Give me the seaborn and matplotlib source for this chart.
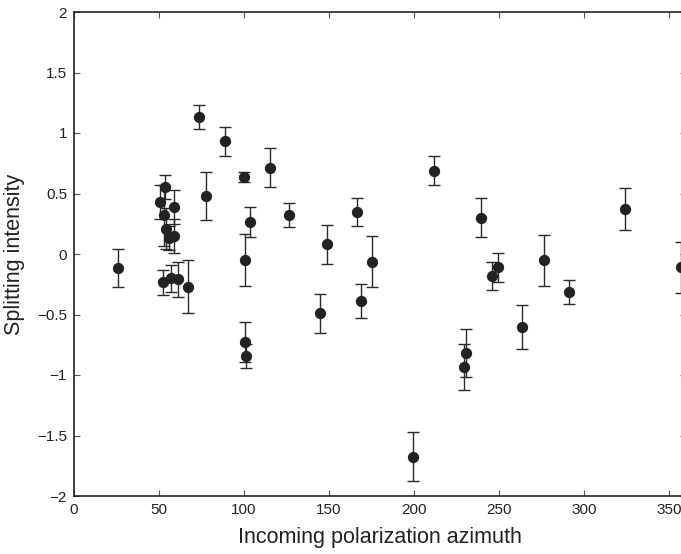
import matplotlib
matplotlib.use("Agg")
import matplotlib.pyplot as plt
import seaborn as sns
import pandas as pd

azimuth = [25.9, 50.6, 53.7, 53.1, 54.1, 56.0, 58.6, 58.8,
           52.5, 57.0, 61.0, 67.0, 73.5, 77.5, 88.8, 99.8, 100.6, 100.8, 101.3,
           103.3, 115.1, 126.7, 144.7, 148.6, 166.7, 168.8, 175.3,
           199.6, 211.8, 229.2, 230.8, 239.6, 245.9, 249.6, 263.5, 276.5,
           291.2, 324.0, 357.0]
splitting = [-0.115, 0.43, 0.555, 0.32, 0.21, 0.13, 0.385, 0.15,
             -0.235, -0.20, -0.21, -0.27, 1.135, 0.477, 0.93, 0.636, -0.047, -0.73, -0.843,
             0.262, 0.713, 0.322, -0.49, 0.08, 0.35, -0.39, -0.063,
             -1.675, 0.69, -0.937, -0.816, 0.30, -0.179, -0.11, -0.603, -0.052,
             -0.317, 0.37, -0.11]
error = [0.155, 0.14, 0.10, 0.25, 0.17, 0.10, 0.14, 0.14,
         0.10, 0.11, 0.145, 0.22, 0.10, 0.20, 0.12, 0.045, 0.215, 0.165, 0.10,
         0.125, 0.16, 0.10, 0.16, 0.163, 0.116, 0.14, 0.212,
         0.204, 0.12, 0.19, 0.20, 0.16, 0.117, 0.122, 0.178, 0.212,
         0.10, 0.175, 0.21]

xticks = [0, 50, 100, 150, 200, 250, 300, 350]
yticks = [-2, -1.5, -1, -0.5, 0, 0.5, 1, 1.5, 2]
ytick_labels = ["\u22122", "\u22121.5", "\u22121", "\u22120.5", "0", "0.5", "1", "1.5", "2"]

df = pd.DataFrame({"azimuth": azimuth, "splitting": splitting, "error": error})

sns.set_theme(style="white")
plt.rcParams["font.family"] = ["Liberation Sans", "DejaVu Sans"]

fig = plt.figure(figsize=(6.81, 5.54), dpi=100)
ax = fig.add_axes([74 / 681, 58 / 554, 612 / 681, 484 / 554])

ax.errorbar(df["azimuth"], df["splitting"], yerr=df["error"], fmt="none",
            ecolor="#2a2a2a", elinewidth=1.0, capsize=4.5, capthick=1.0, zorder=2)
sns.scatterplot(data=df, x="azimuth", y="splitting", ax=ax, s=66,
                color="#222222", edgecolor="#222222", linewidth=0, zorder=3)

ax.set_xlim(0, 360)
ax.set_ylim(-2, 2)
ax.set_xticks(xticks)
ax.set_xticklabels([str(t) for t in xticks])
ax.set_yticks(yticks)
ax.set_yticklabels(ytick_labels)
ax.tick_params(direction="in", length=4, width=0.8, color="#555555",
               labelsize=11, labelcolor="#222222", top=True, right=True,
               bottom=True, left=True, pad=5)
for s in ax.spines.values():
    s.set_color("#222222")
    s.set_linewidth(1.2)

ax.set_xlabel("Incoming polarization azimuth", fontsize=15.5, color="#222222", labelpad=7)
ax.set_ylabel("Splitting intensity", fontsize=15.5, color="#222222", labelpad=9)

fig.savefig("out.png", dpi=100)
